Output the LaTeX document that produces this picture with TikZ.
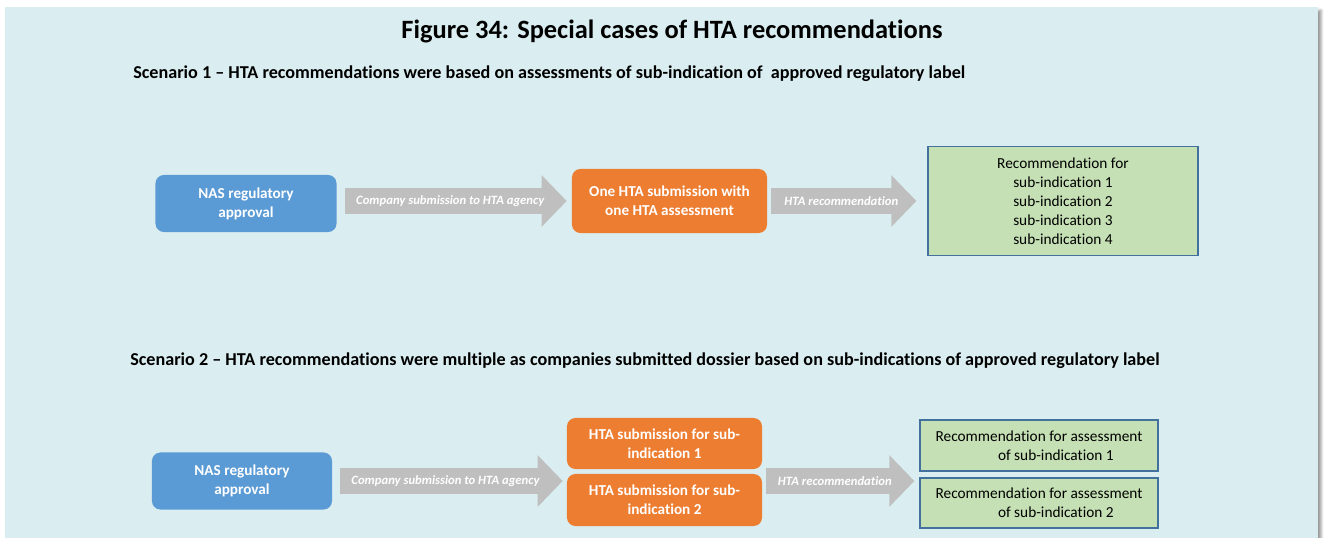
\documentclass[tikz,border=0pt]{standalone}
\usepackage{fontspec}
\setmainfont{Carlito}[Ligatures=NoCommon] % police proche de Calibri
\usetikzlibrary{arrows.meta,          % pointes des grosses flèches
           shadows.blur}              % ombre du cadre
\definecolor{fd}{HTML}{DAEDF0}
\definecolor{bl}{HTML}{5B9BD5}
\definecolor{or}{HTML}{ED7D31}
\definecolor{vt}{HTML}{C5E0B4}
\definecolor{cadre}{HTML}{41719C}
\definecolor{fl}{HTML}{BFBFBF}
\tikzset{
  boite/.style={rounded corners=6pt,text=white,align=center,inner sep=2pt,
                font=\bfseries\fontsize{10.8}{13.5}\selectfont},
  reco/.style={draw=cadre,line width=0.8pt,fill=vt,align=center,inner sep=2pt,
               font=\fontsize{10.9}{13.5}\selectfont},
  fleche/.style={draw=fl,line width=0.625cm,-{Triangle[length=0.625cm,width=1.25cm]}},
  texfl/.style={text=white,font=\bfseries\itshape\fontsize{9}{10}\selectfont},
  scen/.style={anchor=west,inner sep=0pt,font=\bfseries\fontsize{12.9}{15}\selectfont}
}
\begin{document}
\begin{tikzpicture}[x=0.025cm,y=-0.025cm]
\useasboundingbox (0,0) rectangle (1330,538);
\fill[fd,blur shadow={shadow xshift=0.08cm,shadow yshift=-0.08cm}] (5,7) rectangle (1318,580);
\node[font=\bfseries\fontsize{18.8}{22}\selectfont](titre)at(672,31){Figure 34: Special cases of HTA recommendations};
% scénario 1
\node[scen](sc1)at(133,74){Scenario 1 -- HTA recommendations were based on assessments of sub-indication of \ approved regulatory label};
\node[boite,fill=bl,minimum width=4.525cm,minimum height=1.425cm](nas1)at(246,203.5){NAS regulatory\\approval};
\node[boite,fill=or,minimum width=4.875cm,minimum height=1.6cm](one)at(669.5,201){One HTA submission with\\one HTA assessment};
\node[reco,minimum width=6.75cm,minimum height=2.725cm](rec)at(1063,201){Recommendation for\\sub-indication 1\\sub-indication 2\\sub-indication 3\\sub-indication 4};
\draw[fleche,shorten <=0.21cm,shorten >=0.125cm](nas1.east|-one)--(one.west)node[midway,texfl,xshift=-0.1cm]{Company submission to HTA agency};
\draw[fleche,shorten <=0.1cm,shorten >=0.275cm](one.east)--(rec.west)node[midway,texfl,xshift=-0.15cm]{HTA recommendation};
% scénario 2
\node[scen](sc2)at(130,361){Scenario 2 -- HTA recommendations were multiple as companies submitted dossier based on sub-indications of approved regulatory label};
\node[boite,fill=bl,minimum width=4.5cm,minimum height=1.425cm](nas2)at(242,481){NAS regulatory\\approval};
\node[boite,fill=or,minimum width=4.875cm,minimum height=1.275cm](sub1)at(664.5,443.5){HTA submission for sub-\\indication 1};
\node[boite,fill=or,minimum width=4.875cm,minimum height=1.3cm](sub2)at(664.5,500){HTA submission for sub-\\indication 2};
\node[reco,minimum width=5.95cm,minimum height=1.275cm](rec1)at(1039,445.5){Recommendation for assessment\\\hspace*{2.2em}of sub-indication 1};
\node[reco,minimum width=5.95cm,minimum height=1.25cm](rec2)at(1039,503){Recommendation for assessment\\\hspace*{2.2em}of sub-indication 2};
\draw[fleche,shorten <=0.2cm,shorten >=0.1cm](nas2.east)--(nas2.east-|sub1.west)node[midway,texfl,xshift=-0.1cm]{Company submission to HTA agency};
\draw[fleche,shorten <=0.1cm,shorten >=0.125cm](nas2.east-|sub1.east)--(nas2.east-|rec1.west)node[midway,texfl,xshift=-0.15cm]{HTA recommendation};
\end{tikzpicture}
\end{document}
